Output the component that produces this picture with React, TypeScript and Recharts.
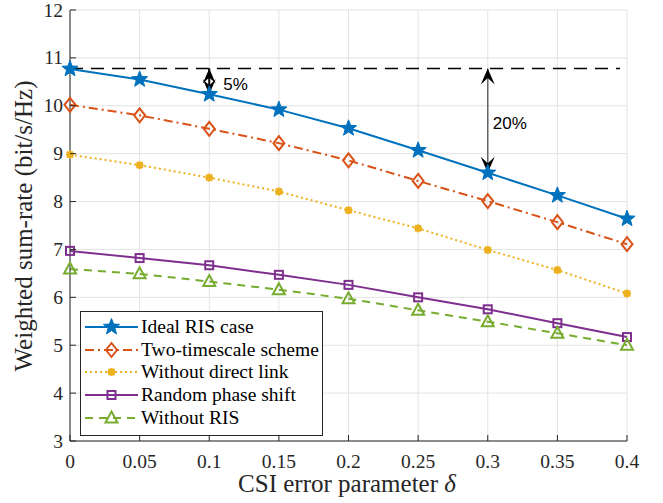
import React from "react";
import {
  LineChart,
  Line,
  XAxis,
  YAxis,
  CartesianGrid,
  ReferenceLine,
} from "recharts";

const delta = [0, 0.05, 0.1, 0.15, 0.2, 0.25, 0.3, 0.35, 0.4];
const idealRis = [10.77, 10.55, 10.24, 9.92, 9.53, 9.07, 8.6, 8.13, 7.64];
const twoTimescale = [10.02, 9.8, 9.52, 9.22, 8.86, 8.43, 8.01, 7.57, 7.11];
const noDirectLink = [8.98, 8.76, 8.5, 8.21, 7.82, 7.44, 6.99, 6.57, 6.08];
const randomPhase = [6.97, 6.82, 6.67, 6.47, 6.26, 6.0, 5.75, 5.46, 5.17];
const withoutRis = [6.59, 6.49, 6.33, 6.16, 5.97, 5.73, 5.49, 5.25, 5.0];

const xTicks = [0, 0.05, 0.1, 0.15, 0.2, 0.25, 0.3, 0.35, 0.4];
const yTicks = [3, 4, 5, 6, 7, 8, 9, 10, 11, 12];

const upperBound = 10.78;
const arrow5 = { x: 0.1, from: upperBound, to: 10.24, text: "5%" };
const arrow20 = { x: 0.3, from: upperBound, to: 8.6, text: "20%" };

const axisColor = "#262626";
const gridColor = "#e3e3e3";
const serif = "'Liberation Serif', 'DejaVu Serif', serif";

const data = delta.map((d, i) => ({
  d,
  ideal: idealRis[i],
  two: twoTimescale[i],
  nodl: noDirectLink[i],
  rand: randomPhase[i],
  nris: withoutRis[i],
}));

function starPath(cx: number, cy: number, ro: number, ri: number) {
  let p = "";
  for (let k = 0; k < 10; k++) {
    const r = k % 2 === 0 ? ro : ri;
    const a = -Math.PI / 2 + (k * Math.PI) / 5;
    p += (k === 0 ? "M" : "L") + (cx + r * Math.cos(a)).toFixed(2) + "," + (cy + r * Math.sin(a)).toFixed(2);
  }
  return p + "Z";
}

const Marker = ({ type, cx, cy, color }: any) => {
  if (type === "star")
    return <path d={starPath(cx, cy, 8.5, 3.6)} fill={color} stroke={color} strokeWidth={1} />;
  if (type === "diamond")
    return (
      <path
        d={`M${cx},${cy - 7}L${cx + 5.5},${cy}L${cx},${cy + 7}L${cx - 5.5},${cy}Z`}
        fill="none"
        stroke={color}
        strokeWidth={2}
      />
    );
  if (type === "square")
    return <rect x={cx - 4} y={cy - 4} width={8} height={8} fill="none" stroke={color} strokeWidth={2} />;
  if (type === "triangle")
    return (
      <path
        d={`M${cx},${cy - 6.5}L${cx + 6},${cy + 4.5}L${cx - 6},${cy + 4.5}Z`}
        fill="none"
        stroke={color}
        strokeWidth={2}
      />
    );
  // asterisk-like marker
  return (
    <g stroke={color} strokeWidth={2}>
      <line x1={cx - 4} y1={cy} x2={cx + 4} y2={cy} />
      <line x1={cx} y1={cy - 4} x2={cx} y2={cy + 4} />
      <line x1={cx - 3} y1={cy - 3} x2={cx + 3} y2={cy + 3} />
      <line x1={cx - 3} y1={cy + 3} x2={cx + 3} y2={cy - 3} />
      <circle cx={cx} cy={cy} r={2.5} fill={color} />
    </g>
  );
};

const series = [
  { key: "ideal", name: "Ideal RIS case", color: "#0072BD", dash: undefined, marker: "star" },
  { key: "two", name: "Two-timescale scheme", color: "#D95319", dash: "9 4 2 4", marker: "diamond" },
  { key: "nodl", name: "Without direct link", color: "#EDB120", dash: "2 3", marker: "asterisk" },
  { key: "rand", name: "Random phase shift", color: "#7E2F8E", dash: undefined, marker: "square" },
  { key: "nris", name: "Without RIS", color: "#77AC30", dash: "8 6", marker: "triangle" },
];

const XTick = ({ x, y, payload }: any) => (
  <g>
    <line x1={x} y1={y} x2={x} y2={y - 6} stroke={axisColor} />
    <text x={x} y={y + 27} textAnchor="middle" fontFamily={serif} fontSize={19.5} fill={axisColor}>
      {payload.value}
    </text>
  </g>
);

const YTick = ({ x, y, payload }: any) => (
  <g>
    <line x1={x} y1={y} x2={x + 6} y2={y} stroke={axisColor} />
    <text x={x - 7} y={y + 6.5} textAnchor="end" fontFamily={serif} fontSize={19.5} fill={axisColor}>
      {payload.value}
    </text>
  </g>
);

const TopTick = ({ x, y }: any) => <line x1={x} y1={y} x2={x} y2={y + 6} stroke={axisColor} />;
const RightTick = ({ x, y }: any) => <line x1={x} y1={y} x2={x - 6} y2={y} stroke={axisColor} />;

function arrowShape(text: string, thin: boolean, dx: number, dy: number) {
  return (props: any) => {
    const { x1, y1, y2 } = props;
    const top = Math.min(y1, y2);
    const bot = Math.max(y1, y2);
    const h = thin ? 15 : 16;
    const w = thin ? 6.5 : 7;
    return (
      <g>
        <line x1={x1} y1={top} x2={x1} y2={bot} stroke={thin ? "#000" : "#666"} strokeWidth={thin ? 2 : 1.5} />
        <path d={`M${x1},${top}L${x1 + w},${top + h}L${x1},${top + h * 0.6}L${x1 - w},${top + h}Z`} fill="#000" />
        <path d={`M${x1},${bot}L${x1 + w},${bot - h}L${x1},${bot - h * 0.6}L${x1 - w},${bot - h}Z`} fill="#000" />
        <text x={x1 + dx} y={top + dy} fontFamily="'Liberation Sans', Arial, sans-serif" fontSize={17} fill="#000">
          {text}
        </text>
      </g>
    );
  };
}

const LegendBox = () => (
  <div
    style={{
      position: "absolute",
      left: 80,
      top: 311,
      width: 243,
      height: 125,
      border: "1px solid #262626",
      background: "#fff",
      boxSizing: "border-box",
      paddingTop: 4,
    }}
  >
    {series.map((s) => (
      <div key={s.key} style={{ display: "flex", alignItems: "center", height: 22.6 }}>
        <svg width={60} height={20} style={{ flex: "none" }}>
          <line x1={4} y1={10} x2={57} y2={10} stroke={s.color} strokeWidth={2} strokeDasharray={s.dash} />
          <Marker type={s.marker} cx={30.5} cy={10} color={s.color} />
        </svg>
        <span style={{ fontFamily: serif, fontSize: 19.5, color: "#000", whiteSpace: "nowrap" }}>{s.name}</span>
      </div>
    ))}
  </div>
);

export default function App() {
  return (
    <div style={{ position: "absolute", left: 0, top: 0, width: 663, height: 503, background: "#fff" }}>
      <LineChart width={663} height={503} data={data} margin={{ top: 10, right: 36, left: 0, bottom: 0 }}>
        <CartesianGrid stroke={gridColor} strokeWidth={1} />
        <XAxis
          dataKey="d"
          type="number"
          domain={[0, 0.4]}
          ticks={xTicks}
          height={62}
          stroke={axisColor}
          tickLine={false}
          tickSize={0}
          tickMargin={0}
          tick={<XTick />}
          label={{
            content: () => (
              <text x={347} y={492} textAnchor="middle" fontFamily={serif} fontSize={25} fill={axisColor}>
                CSI error parameter <tspan fontStyle="italic">δ</tspan>
              </text>
            ),
          }}
        />
        <XAxis
          xAxisId="top"
          orientation="top"
          type="number"
          domain={[0, 0.4]}
          ticks={xTicks}
          height={0}
          stroke={axisColor}
          tickLine={false}
          tickSize={0}
          tickMargin={0}
          tick={<TopTick />}
        />
        <YAxis
          type="number"
          domain={[3, 12]}
          ticks={yTicks}
          width={70}
          stroke={axisColor}
          tickLine={false}
          tickSize={0}
          tickMargin={0}
          tick={<YTick />}
          label={{
            content: () => (
              <text
                x={32}
                y={226}
                transform="rotate(-90 32 226)"
                textAnchor="middle"
                fontFamily={serif}
                fontSize={25}
                fill={axisColor}
              >
                Weighted sum-rate (bit/s/Hz)
              </text>
            ),
          }}
        />
        <YAxis
          yAxisId="right"
          orientation="right"
          type="number"
          domain={[3, 12]}
          ticks={yTicks}
          width={0}
          stroke={axisColor}
          tickLine={false}
          tickSize={0}
          tickMargin={0}
          tick={<RightTick />}
        />
        <ReferenceLine
          segment={[
            { x: 0, y: upperBound },
            { x: 0.395, y: upperBound },
          ]}
          stroke="#000"
          strokeWidth={1.5}
          strokeDasharray="13 8"
          ifOverflow="visible"
        />
        {series.map((s) => (
          <Line
            key={s.key}
            dataKey={s.key}
            name={s.name}
            stroke={s.color}
            strokeWidth={2}
            strokeDasharray={s.dash}
            isAnimationActive={false}
            dot={(p: any) => <Marker key={`${s.key}-${p.index}`} type={s.marker} cx={p.cx} cy={p.cy} color={s.color} />}
            activeDot={false}
          />
        ))}
        <ReferenceLine
          segment={[
            { x: arrow5.x, y: arrow5.from },
            { x: arrow5.x, y: arrow5.to },
          ]}
          shape={arrowShape(arrow5.text, true, 14, 22)}
          ifOverflow="visible"
        />
        <ReferenceLine
          segment={[
            { x: arrow20.x, y: arrow20.from },
            { x: arrow20.x, y: arrow20.to },
          ]}
          shape={arrowShape(arrow20.text, false, 5, 61)}
          ifOverflow="visible"
        />
      </LineChart>
      <LegendBox />
    </div>
  );
}
